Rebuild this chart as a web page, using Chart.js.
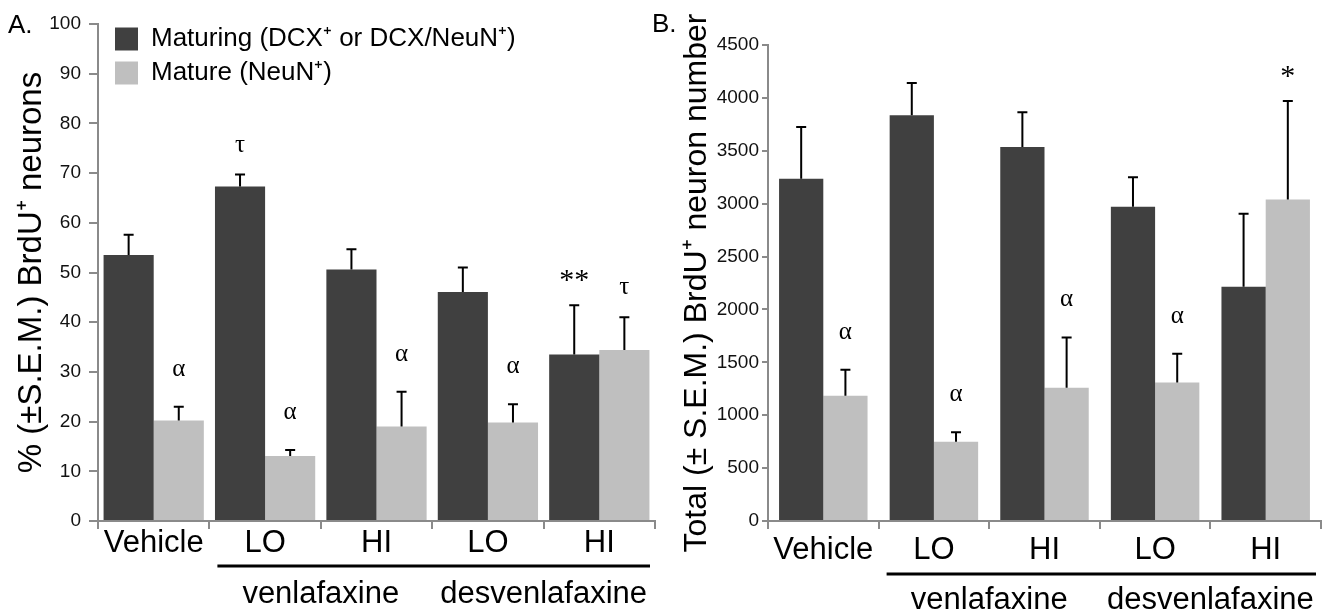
<!DOCTYPE html>
<html><head><meta charset="utf-8">
<script src="https://cdn.jsdelivr.net/npm/chart.js@4.4.1/dist/chart.umd.min.js"></script>
<style>
html,body{margin:0;padding:0;background:#fff;width:1326px;height:613px;overflow:hidden;}
#wl{position:absolute;left:0;top:0;width:663px;height:613px;}
#wr{position:absolute;left:640px;top:0;width:686px;height:613px;}
</style></head><body>
<div id="wl"><canvas id="cl" width="663" height="613"></canvas></div>
<div id="wr"><canvas id="cr" width="686" height="613"></canvas></div>
<script>
// ---- data ----
const categories = ['Vehicle', 'LO', 'HI', 'LO', 'HI'];
const groupLabels = ['venlafaxine', 'desvenlafaxine'];
const groupStart = [1, 3];
const seriesNames = ['Maturing (DCX⁺ or DCX/NeuN⁺)', 'Mature (NeuN⁺)'];

const pctMaturing = [53.5, 67.3, 50.6, 46.1, 33.5];
const pctMaturingSEM = [4.1, 2.4, 4.1, 4.9, 9.9];
const pctMature = [20.2, 13.1, 19.0, 19.8, 34.4];
const pctMatureSEM = [2.8, 1.2, 7.0, 3.7, 6.6];
const pctMaturingMarks = ['', 'τ', '', '', '**'];
const pctMatureMarks = ['α', 'α', 'α', 'α', 'τ'];

const totalMaturing = [3235, 3835, 3535, 2970, 2215];
const totalMaturingSEM = [490, 305, 330, 280, 690];
const totalMature = [1185, 750, 1260, 1310, 3040];
const totalMatureSEM = [245, 90, 475, 270, 930];
const totalMaturingMarks = ['', '', '', '', ''];
const totalMatureMarks = ['α', 'α', 'α', 'α', '*'];

const pctAxis = { min: 0, max: 100, step: 10, title: '% (±S.E.M.) BrdU⁺ neurons' };
const totalAxis = { min: 0, max: 4500, step: 500, title: 'Total (± S.E.M.) BrdU⁺ neuron number' };

// ---- styling ----
const SANS = '"Liberation Sans", Arial, sans-serif';
const SERIF = '"Liberation Serif", "Times New Roman", serif';
Chart.defaults.font.family = SANS;
const DARK = '#404040', LIGHT = '#bfbfbf', AXIS = '#8a8a8a';

function overlayPlugin(cfg) {
  return {
    id: 'overlay',
    afterLayout(chart) {
      if (cfg.legendPos && chart.legend) {
        chart.legend.left = cfg.legendPos[0];
        chart.legend.top = cfg.legendPos[1];
      }
    },
    afterDatasetsDraw(chart) {
      const ctx = chart.ctx, ys = chart.scales.y, xs = chart.scales.x;
      ctx.save();
      cfg.sems.forEach((sem, di) => {
        const meta = chart.getDatasetMeta(di);
        const vals = chart.data.datasets[di].data;
        meta.data.forEach((bar, j) => {
          const top = ys.getPixelForValue(vals[j] + sem[j]);
          ctx.strokeStyle = '#000';
          ctx.lineWidth = 2;
          ctx.beginPath();
          ctx.moveTo(bar.x, bar.y);
          ctx.lineTo(bar.x, top);
          ctx.moveTo(bar.x - 5, top);
          ctx.lineTo(bar.x + 5, top);
          ctx.stroke();
          const m = cfg.marks[di][j];
          if (m) {
            ctx.fillStyle = '#000';
            ctx.textAlign = 'center';
            ctx.textBaseline = 'alphabetic';
            if (m.indexOf('*') >= 0) {
              ctx.font = '30px ' + SERIF;
              const c = top - 31;
              ctx.fillText(m, bar.x, c + 15);
            } else {
              ctx.font = '25px ' + SERIF;
              const c = top - (m === 'τ' ? 29 : 37);
              ctx.fillText(m, bar.x, c + 6);
            }
          }
        });
      });
      // drug group line and labels
      const cw = xs.getPixelForValue(1) - xs.getPixelForValue(0);
      const last = categories.length - 1;
      ctx.strokeStyle = '#000';
      ctx.lineWidth = 3;
      ctx.beginPath();
      ctx.moveTo(xs.getPixelForValue(groupStart[0]) - cw / 2 + 8, xs.top + cfg.lineDy);
      ctx.lineTo(xs.getPixelForValue(last) + cw / 2 - 5, xs.top + cfg.lineDy);
      ctx.stroke();
      ctx.fillStyle = '#000';
      ctx.font = '31px ' + SANS;
      ctx.textAlign = 'center';
      ctx.textBaseline = 'alphabetic';
      groupLabels.forEach((g, i) => {
        const cx = (xs.getPixelForValue(groupStart[i]) + xs.getPixelForValue(groupStart[i] + 1)) / 2;
        ctx.fillText(g, cx, xs.top + cfg.labelDy);
      });
      // panel letter
      ctx.font = '26px ' + SANS;
      ctx.textAlign = 'left';
      ctx.fillText(cfg.panel, cfg.panelPos[0], cfg.panelPos[1]);
      ctx.restore();
    }
  };
}

function makeChart(id, cfg) {
  return new Chart(document.getElementById(id), {
    type: 'bar',
    data: {
      labels: categories,
      datasets: [
        { label: seriesNames[0], data: cfg.dark, backgroundColor: DARK, borderWidth: 0,
          categoryPercentage: cfg.catPct, barPercentage: 1.0 },
        { label: seriesNames[1], data: cfg.light, backgroundColor: LIGHT, borderWidth: 0,
          categoryPercentage: cfg.catPct, barPercentage: 1.0 }
      ]
    },
    options: {
      responsive: false,
      animation: false,
      devicePixelRatio: 1,
      layout: { padding: cfg.padding },
      plugins: {
        tooltip: { enabled: false },
        legend: {
          display: cfg.legend,
          position: 'chartArea',
          align: 'start',
          labels: { boxWidth: 23, boxHeight: 23, padding: 8, color: '#000',
                    font: { size: 26, family: SANS } }
        }
      },
      scales: {
        x: {
          offset: true,
          grid: { display: true, drawOnChartArea: false, drawTicks: true, tickLength: 8,
                  color: AXIS, lineWidth: 2, offset: true },
          border: { display: true, color: AXIS, width: 2 },
          ticks: { color: '#000', font: { size: 31, family: SANS }, padding: cfg.xPad, maxRotation: 0 },
          afterFit: s => { s.height = 92; }
        },
        y: {
          min: cfg.axis.min, max: cfg.axis.max,
          grid: { display: true, drawOnChartArea: false, drawTicks: true, tickLength: cfg.tickLen,
                  color: AXIS, lineWidth: 2 },
          border: { display: true, color: AXIS, width: 2 },
          ticks: { stepSize: cfg.axis.step, color: '#111', font: { size: 19, family: SANS },
                   padding: cfg.yPad, callback: v => String(v) },
          title: { display: true, text: cfg.axis.title, color: '#000',
                   font: { size: cfg.titleSize, family: SANS }, padding: { top: cfg.titlePad, bottom: 0 } },
          afterFit: s => { s.width = cfg.yWidth; }
        }
      }
    },
    plugins: [overlayPlugin(cfg)]
  });
}

makeChart('cl', {
  dark: pctMaturing, light: pctMature,
  sems: [pctMaturingSEM, pctMatureSEM],
  marks: [pctMaturingMarks, pctMatureMarks],
  axis: pctAxis,
  catPct: 0.9,
  padding: { left: 0, right: 8, top: 24, bottom: 0 },
  yWidth: 98, tickLen: 9, yPad: 8, xPad: -4,
  titleSize: 33, titlePad: 12,
  legend: true, legendPos: [107, 18],
  lineDy: 45, labelDy: 82,
  panel: 'A.', panelPos: [8, 33]
});

makeChart('cr', {
  dark: totalMaturing, light: totalMature,
  sems: [totalMaturingSEM, totalMatureSEM],
  marks: [totalMaturingMarks, totalMatureMarks],
  axis: totalAxis,
  catPct: 0.8,
  padding: { left: 23, right: 5, top: 45, bottom: 0 },
  yWidth: 105, tickLen: 6, yPad: 3, xPad: 3,
  titleSize: 32, titlePad: 15,
  legend: false,
  lineDy: 53, labelDy: 88,
  panel: 'B.', panelPos: [12, 32]
});
</script>
</body></html>
